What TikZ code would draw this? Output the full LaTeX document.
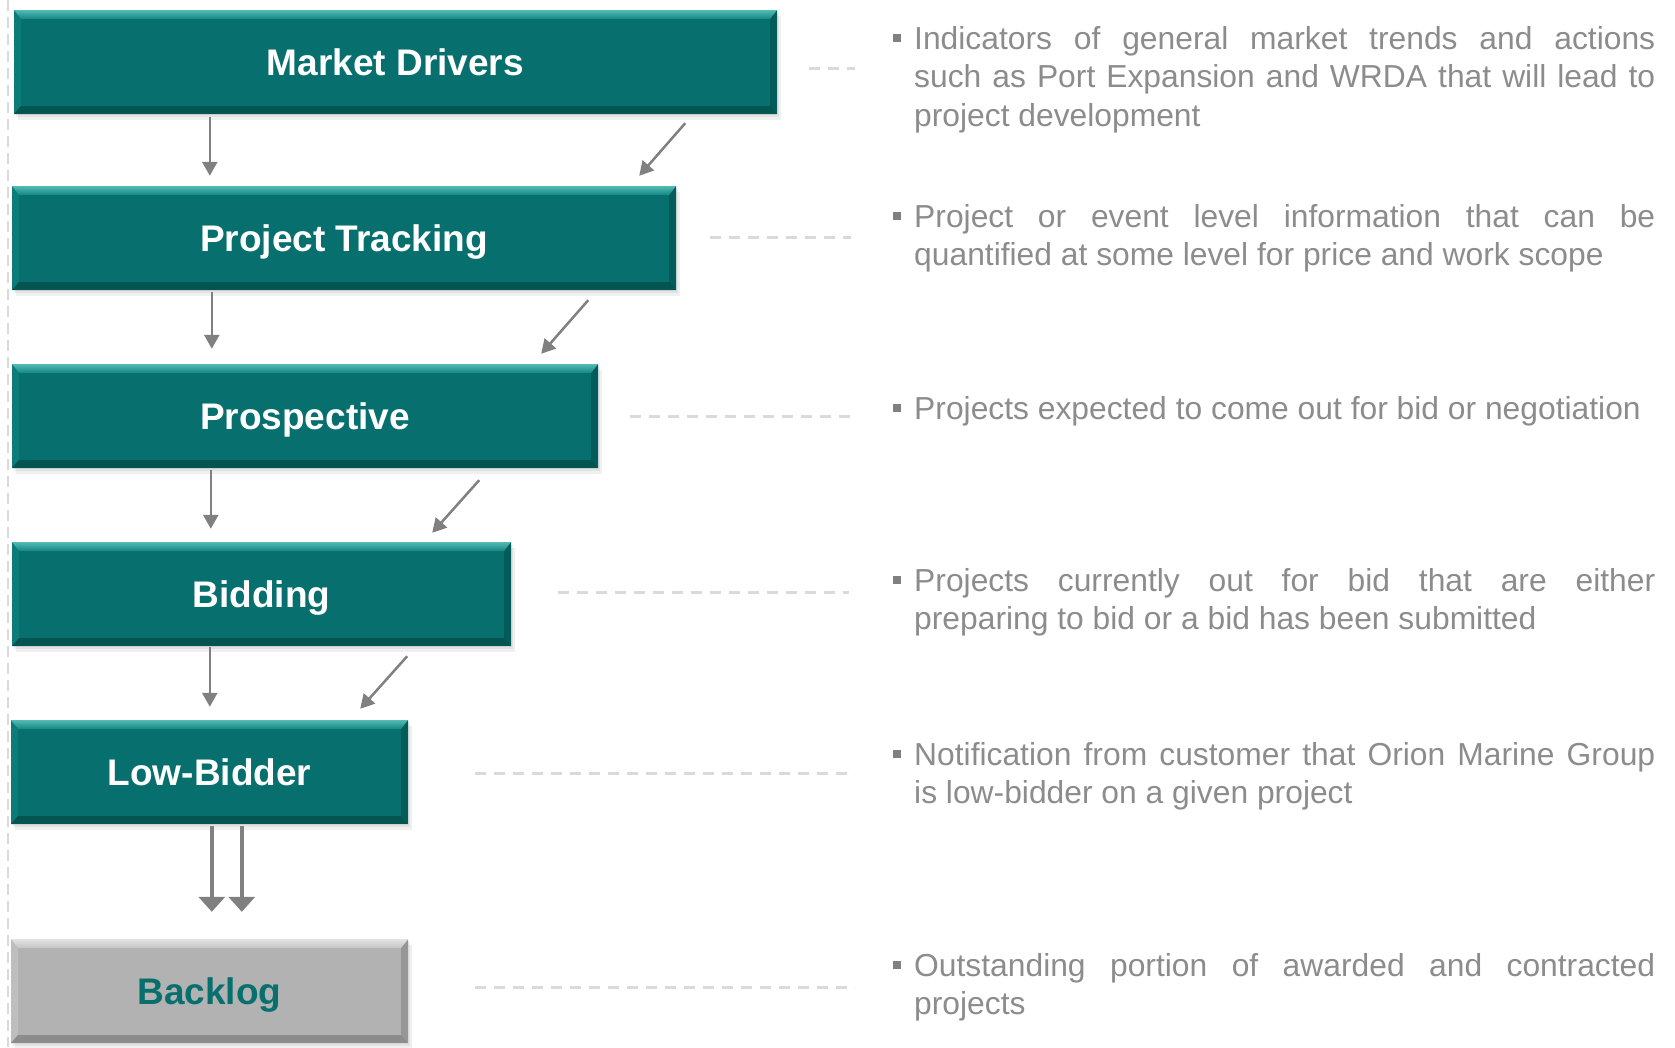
\documentclass[tikz,border=0pt]{standalone}
\usepackage{fontspec}
\setmainfont{Liberation Sans}
\usetikzlibrary{arrows.meta,calc}

\definecolor{tealmain}{RGB}{7,112,110}
\definecolor{tealtop}{RGB}{84,186,180}
\definecolor{tealtopb}{RGB}{20,134,130}
\definecolor{tealleft}{RGB}{12,124,121}
\definecolor{tealright}{RGB}{4,92,90}
\definecolor{tealbot}{RGB}{4,84,82}
\definecolor{greymain}{RGB}{178,178,178}
\definecolor{greytop}{RGB}{228,228,228}
\definecolor{greytopb}{RGB}{196,196,196}
\definecolor{greyleft}{RGB}{190,190,190}
\definecolor{greyright}{RGB}{150,150,150}
\definecolor{greybot}{RGB}{140,140,140}
\definecolor{arrowgrey}{RGB}{128,128,128}
\definecolor{leadgrey}{RGB}{218,218,218}
\definecolor{notegrey}{RGB}{140,140,140}
\definecolor{bulletgrey}{RGB}{128,128,128}

\tikzset{
  bevelled/.style n args={5}{path picture={
    \path (path picture bounding box.north west) coordinate (pnw)
          (path picture bounding box.north east) coordinate (pne)
          (path picture bounding box.south west) coordinate (psw)
          (path picture bounding box.south east) coordinate (pse);
    % left and right faces
    \fill[#3] (pnw) -- ([xshift=7pt,yshift=-9pt]pnw) -- ([xshift=7pt,yshift=8pt]psw) -- (psw) -- cycle;
    \fill[#4] (pne) -- ([xshift=-7pt,yshift=-9pt]pne) -- ([xshift=-7pt,yshift=8pt]pse) -- (pse) -- cycle;
    % bottom face
    \fill[#5] (psw) -- ([xshift=7pt,yshift=8pt]psw) -- ([xshift=-7pt,yshift=8pt]pse) -- (pse) -- cycle;
    % top face, lit from above
    \fill[top color=#1, bottom color=#2] (pnw) -- (pne) -- ([xshift=-7pt,yshift=-9pt]pne) -- ([xshift=7pt,yshift=-9pt]pnw) -- cycle;
  }},
  stage/.style={rectangle, inner sep=0pt, minimum height=104pt,
    text height=30pt, text depth=4pt,
    font=\bfseries\fontsize{37}{44}\selectfont,
    preaction={fill=black, opacity=0.06, transform canvas={xshift=2pt, yshift=-3pt}},
    preaction={fill=black, opacity=0.06, transform canvas={xshift=4pt, yshift=-6pt}}},
  tealstage/.style={stage, fill=tealmain, text=white,
    bevelled={tealtop}{tealtopb}{tealleft}{tealright}{tealbot}},
  greystage/.style={stage, fill=greymain, text=tealmain,
    bevelled={greytop}{greytopb}{greyleft}{greyright}{greybot}},
  flow/.style={draw=arrowgrey, line width=2.5pt, -{Triangle[length=14pt,width=15pt]}},
  bigflow/.style={draw=arrowgrey, line width=3.5pt, -{Triangle[length=15pt,width=26pt]}},
  lead/.style={draw=leadgrey, line width=3pt, dash pattern=on 11pt off 8pt},
  margin/.style={draw=leadgrey, line width=2.5pt, dash pattern=on 11pt off 6pt},
  note/.style={anchor=base west, text width=741pt, align=justify, inner sep=0pt,
    text=notegrey, font=\fontsize{31.8}{38.5}\selectfont},
  bulletsq/.style={rectangle, fill=bulletgrey, minimum size=8pt, inner sep=0pt},
}

\begin{document}
\begin{tikzpicture}[x=1pt, y=-1pt]
\useasboundingbox (0,0) rectangle (1675,1047);

% left margin rule
\coordinate (mtop) at (8,0);
\coordinate (mbot) at (8,1047);
\draw[margin] (mtop) -- (mbot);

% pipeline stages
\node[tealstage, minimum width=763pt] (md) at (395.5,62)  {Market Drivers};
\node[tealstage, minimum width=664pt] (pt) at (344,238)   {Project Tracking};
\node[tealstage, minimum width=586pt] (pr) at (305,416)   {Prospective};
\node[tealstage, minimum width=499pt] (bd) at (261.5,594) {Bidding};
\node[tealstage, minimum width=397pt] (lb) at (209.5,772) {Low-Bidder};
\node[greystage, minimum width=397pt] (bl) at (209.5,991) {Backlog};

% straight flow down the left side
\draw[flow] ($(md.south west)+(196,3)$)  -- ($(pt.north west)+(198,-10)$);
\draw[flow] ($(pt.south west)+(200,2)$)  -- ($(pr.north west)+(200,-15)$);
\draw[flow] ($(pr.south west)+(199,2)$)  -- ($(bd.north west)+(199,-13)$);
\draw[flow] ($(bd.south west)+(198,1)$)  -- ($(lb.north west)+(199,-13)$);

% narrowing flow on the right side
\draw[flow] ($(md.south east)+(-92,9)$)   -- ($(pt.north east)+(-37,-10)$);
\draw[flow] ($(pt.south east)+(-88,10)$)  -- ($(pr.north east)+(-57,-10)$);
\draw[flow] ($(pr.south east)+(-119,12)$) -- ($(bd.north east)+(-79,-9)$);
\draw[flow] ($(bd.south east)+(-104,10)$) -- ($(lb.north east)+(-48,-11)$);

% award into backlog
\draw[bigflow] ($(lb.south west)+(201,2)$) -- ($(bl.north west)+(201,-27)$);
\draw[bigflow] ($(lb.south west)+(231,2)$) -- ($(bl.north west)+(231,-27)$);

% descriptions
\node[note] (t1) at (914,49) {\tolerance=9999\hbadness=10000
  Indicators of general market trends and actions\linebreak
  such as Port Expansion and WRDA that will lead to\linebreak
  project development};
\node[note] (t2) at (914,227) {\tolerance=9999\hbadness=10000
  Project or event level information that can be\linebreak
  quantified at some level for price and work scope};
\node[note] (t3) at (914,419) {\tolerance=9999\hbadness=10000
  Projects expected to come out for bid or negotiation};
\node[note] (t4) at (914,591) {\tolerance=9999\hbadness=10000
  Projects currently out for bid that are either\linebreak
  preparing to bid or a bid has been submitted};
\node[note] (t5) at (914,765) {\tolerance=9999\hbadness=10000
  Notification from customer that Orion Marine Group\linebreak
  is low-bidder on a given project};
\node[note] (t6) at (914,976) {\tolerance=9999\hbadness=10000
  Outstanding portion of awarded and contracted\linebreak
  projects};

% bullets
\foreach \i in {1,...,6}
  \node[bulletsq] (b\i) at ($(t\i.base west)+(-17,-11)$) {};

% dashed leaders between stages and descriptions
\coordinate (l1a) at (809,68);  \coordinate (l1b) at (855,68);
\coordinate (l2a) at (710,237); \coordinate (l2b) at (851,237);
\coordinate (l3a) at (630,416); \coordinate (l3b) at (855,416);
\coordinate (l4a) at (558,592); \coordinate (l4b) at (849,592);
\coordinate (l5a) at (475,773); \coordinate (l5b) at (855,773);
\coordinate (l6a) at (475,987); \coordinate (l6b) at (855,987);
\foreach \i in {1,...,6}
  \draw[lead] (l\i a) -- (l\i b);
\end{tikzpicture}
\end{document}
